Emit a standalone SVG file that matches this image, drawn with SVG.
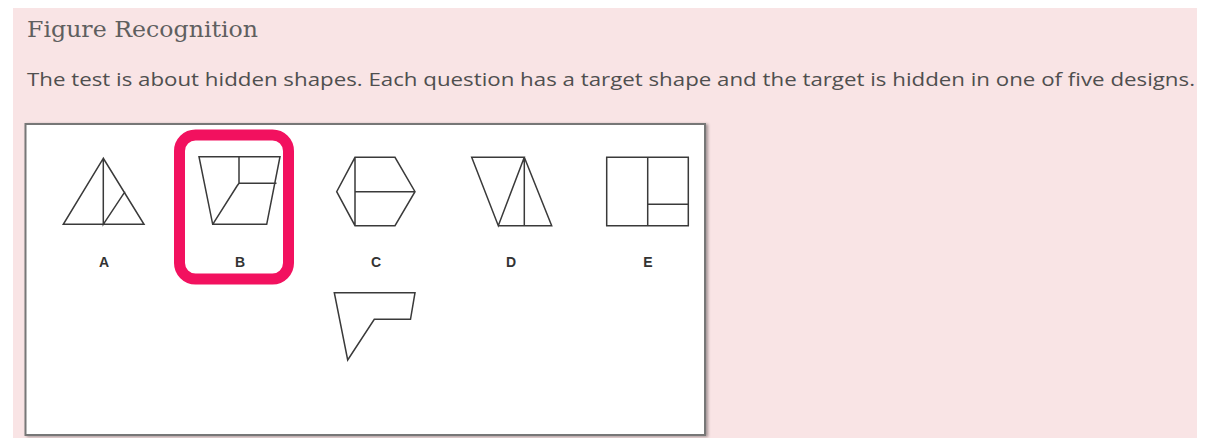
<svg xmlns="http://www.w3.org/2000/svg" width="1221" height="438" viewBox="0 0 1221 438">
<defs>
<style>
.shape{fill:none;stroke:#3a3a3a;stroke-width:1.5;stroke-linejoin:miter}
.lbl{font-family:"Liberation Sans",Arial,sans-serif;font-weight:bold;font-size:14px;fill:#333;text-anchor:middle}
</style>
<filter id="sh" x="-5%" y="-5%" width="110%" height="110%">
<feDropShadow dx="2" dy="1" stdDeviation="1.5" flood-color="#000" flood-opacity="0.35"/>
</filter>
</defs>
<rect x="0" y="0" width="1221" height="438" fill="#ffffff"/>
<rect x="13" y="8" width="1184" height="430" fill="#F9E4E5"/>
<text x="27" y="37" font-family="'DejaVu Serif','Liberation Serif',serif" font-size="23" fill="#5f5f5f" textLength="231" lengthAdjust="spacingAndGlyphs">Figure Recognition</text>
<text x="27" y="86" font-family="'Open Sans','Liberation Sans',sans-serif" font-size="18.5" fill="#4f4f4f" textLength="1168" lengthAdjust="spacingAndGlyphs">The test is about hidden shapes. Each question has a target shape and the target is hidden in one of five designs.</text>
<rect id="panel" x="25.5" y="124" width="679.5" height="311" fill="#ffffff" stroke="#777" stroke-width="2" filter="url(#sh)"/>
<g id="A">
<path class="shape" d="M103.3,158.3 L63.3,224.3 L144,224.3 Z M103.3,158.3 L103.3,224.3 L125,191.7"/>
<text class="lbl" x="104" y="267">A</text>
</g>
<g id="B">
<path class="shape" d="M199,156.7 L280,156.7 L266.7,224.3 L212.7,224.3 Z M212.7,224.3 L237,186 L239,183.3 L276.5,183.3 M239,183.3 L239,156.7"/>
<text class="lbl" x="240" y="267">B</text>
</g>
<g id="C">
<path class="shape" d="M355,157.3 L395,157.3 L415,191.7 L395,225.7 L355,225.7 L336.7,191.7 Z M355,157.3 L355,225.7 M355,191.7 L415,191.7"/>
<text class="lbl" x="376" y="267">C</text>
</g>
<g id="D">
<path class="shape" d="M471.7,157.3 L524.3,157.3 L498.3,225.7 Z M524.3,157.3 L551.7,225.7 L498.3,225.7 M524.3,157.3 L524.3,225.7"/>
<text class="lbl" x="511" y="267">D</text>
</g>
<g id="E">
<path class="shape" d="M606.7,157.3 H688.3 V225.7 H606.7 Z M647.7,157.3 V225.7 M647.7,204.3 H688.3"/>
<text class="lbl" x="648" y="267">E</text>
</g>
<g id="target">
<path class="shape" stroke="#555" d="M334.3,292.7 L415,292.7 L410.5,319.3 L374.3,319.3 L347.7,360 Z"/>
</g>
<g id="highlight">
<rect x="179.5" y="135" width="109" height="144" rx="16" ry="16" fill="none" stroke="#F2115F" stroke-width="11"/>
</g>
<g id="connectors"/>
</svg>
